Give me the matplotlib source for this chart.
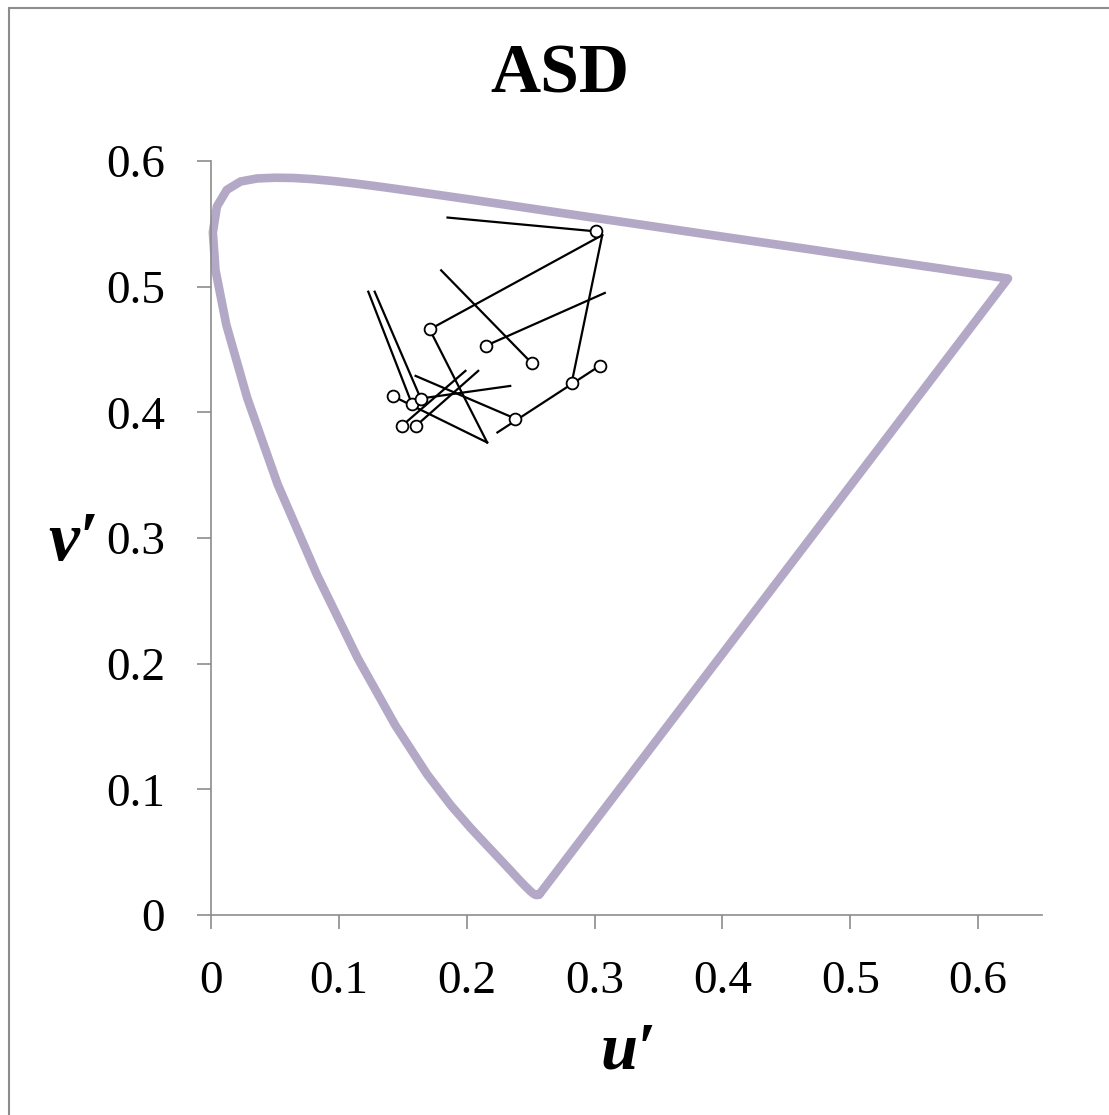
#!/usr/bin/env python3

import matplotlib
matplotlib.use("Agg")
import matplotlib.pyplot as plt
from matplotlib.patches import Rectangle

plt.rcParams['font.family'] = ['Liberation Serif', 'DejaVu Serif']

# CIE 1976 spectral locus, 380-700 nm in 5 nm steps (u', v')
locus_u = [0.2569, 0.2567, 0.2564, 0.2560, 0.2558, 0.2553, 0.2545, 0.2537, 0.2522, 0.2496,
           0.2461, 0.2411, 0.2347, 0.2266, 0.2161, 0.2033, 0.1877, 0.1690, 0.1441, 0.1147,
           0.0828, 0.0521, 0.0282, 0.0119, 0.0035, 0.0014, 0.0046, 0.0123, 0.0231, 0.0360,
           0.0501, 0.0643, 0.0792, 0.0953, 0.1127, 0.1319, 0.1531, 0.1766, 0.2026, 0.2312,
           0.2623, 0.2959, 0.3315, 0.3681, 0.4035, 0.4380, 0.4691, 0.4967, 0.5202, 0.5399,
           0.5565, 0.5709, 0.5830, 0.5930, 0.6005, 0.6064, 0.6108, 0.6138, 0.6161, 0.6181,
           0.6199, 0.6226, 0.6234, 0.2569]
locus_v = [0.0165, 0.0165, 0.0163, 0.0163, 0.0159, 0.0159, 0.0159, 0.0160, 0.0169, 0.0191,
           0.0226, 0.0278, 0.0349, 0.0437, 0.0550, 0.0689, 0.0871, 0.1119, 0.1510, 0.2044,
           0.2708, 0.3427, 0.4117, 0.4698, 0.5131, 0.5432, 0.5638, 0.5770, 0.5837, 0.5861,
           0.5867, 0.5865, 0.5856, 0.5841, 0.5821, 0.5796, 0.5766, 0.5732, 0.5694, 0.5651,
           0.5604, 0.5554, 0.5501, 0.5446, 0.5393, 0.5342, 0.5296, 0.5254, 0.5219, 0.5190,
           0.5165, 0.5144, 0.5125, 0.5110, 0.5099, 0.5090, 0.5084, 0.5079, 0.5076, 0.5073,
           0.5070, 0.5066, 0.5065, 0.0165]

# black line segments (start u, start v, end u, end v)
seg_u1 = [0.185, 0.306, 0.306, 0.180, 0.308, 0.171, 0.142, 0.123, 0.128, 0.234, 0.160, 0.199, 0.209, 0.224]
seg_v1 = [0.555, 0.541, 0.541, 0.513, 0.495, 0.466, 0.413, 0.496, 0.496, 0.421, 0.429, 0.433, 0.433, 0.384]
seg_u2 = [0.301, 0.171, 0.282, 0.251, 0.215, 0.216, 0.216, 0.157, 0.164, 0.164, 0.238, 0.149, 0.160, 0.304]
seg_v2 = [0.544, 0.466, 0.423, 0.439, 0.453, 0.376, 0.376, 0.407, 0.411, 0.411, 0.395, 0.389, 0.389, 0.437]

# open circle markers
mark_u = [0.301, 0.171, 0.215, 0.251, 0.282, 0.304, 0.238, 0.142, 0.157, 0.164, 0.149, 0.160]
mark_v = [0.544, 0.466, 0.453, 0.439, 0.423, 0.437, 0.395, 0.413, 0.407, 0.411, 0.389, 0.389]

fig = plt.figure(figsize=(11.09, 11.15), dpi=100)
fig.patches.append(Rectangle((9 / 1109, -0.1), 1.2, 1.1 - 8 / 1115, transform=fig.transFigure,
                             fill=False, edgecolor='#8c8c8c', linewidth=1.5))

ax = fig.add_axes([0.1903, 0.1794, 0.7493, 0.6762])

ax.plot(locus_u, locus_v, color='#b3a9c7', linewidth=6.2, solid_joinstyle='round',
        solid_capstyle='round', clip_on=False, zorder=2)

for i in range(len(seg_u1)):
    ax.plot([seg_u1[i], seg_u2[i]], [seg_v1[i], seg_v2[i]], color='black', linewidth=1.6, zorder=3)

ax.plot(mark_u, mark_v, 'o', markerfacecolor='white', markeredgecolor='black',
        markersize=8.5, markeredgewidth=1.3, linestyle='none', zorder=4)

ax.set_xlim(0, 0.65)
ax.set_ylim(0, 0.6)
ax.set_xticks([0, 0.1, 0.2, 0.3, 0.4, 0.5, 0.6])
ax.set_xticklabels(['0', '0.1', '0.2', '0.3', '0.4', '0.5', '0.6'])
ax.set_yticks([0, 0.1, 0.2, 0.3, 0.4, 0.5, 0.6])
ax.set_yticklabels(['0', '0.1', '0.2', '0.3', '0.4', '0.5', '0.6'])

for side in ['top', 'right']:
    ax.spines[side].set_visible(False)
for side in ['left', 'bottom']:
    ax.spines[side].set_color('#8c8c8c')
    ax.spines[side].set_linewidth(1.2)

ax.tick_params(axis='both', direction='out', length=10, width=1.2, color='#8c8c8c',
               labelsize=34, pad=23)

fig.text(0.505, 0.9327, 'ASD', fontsize=50, fontweight='bold', ha='center', va='center')
fig.text(0.5663, 0.0565, 'u′', fontsize=48, fontweight='bold', fontstyle='italic',
         ha='center', va='center')
fig.text(0.0667, 0.513, 'v′', fontsize=50, fontweight='bold', fontstyle='italic',
         ha='center', va='center')

fig.savefig('out.png', dpi=100)
